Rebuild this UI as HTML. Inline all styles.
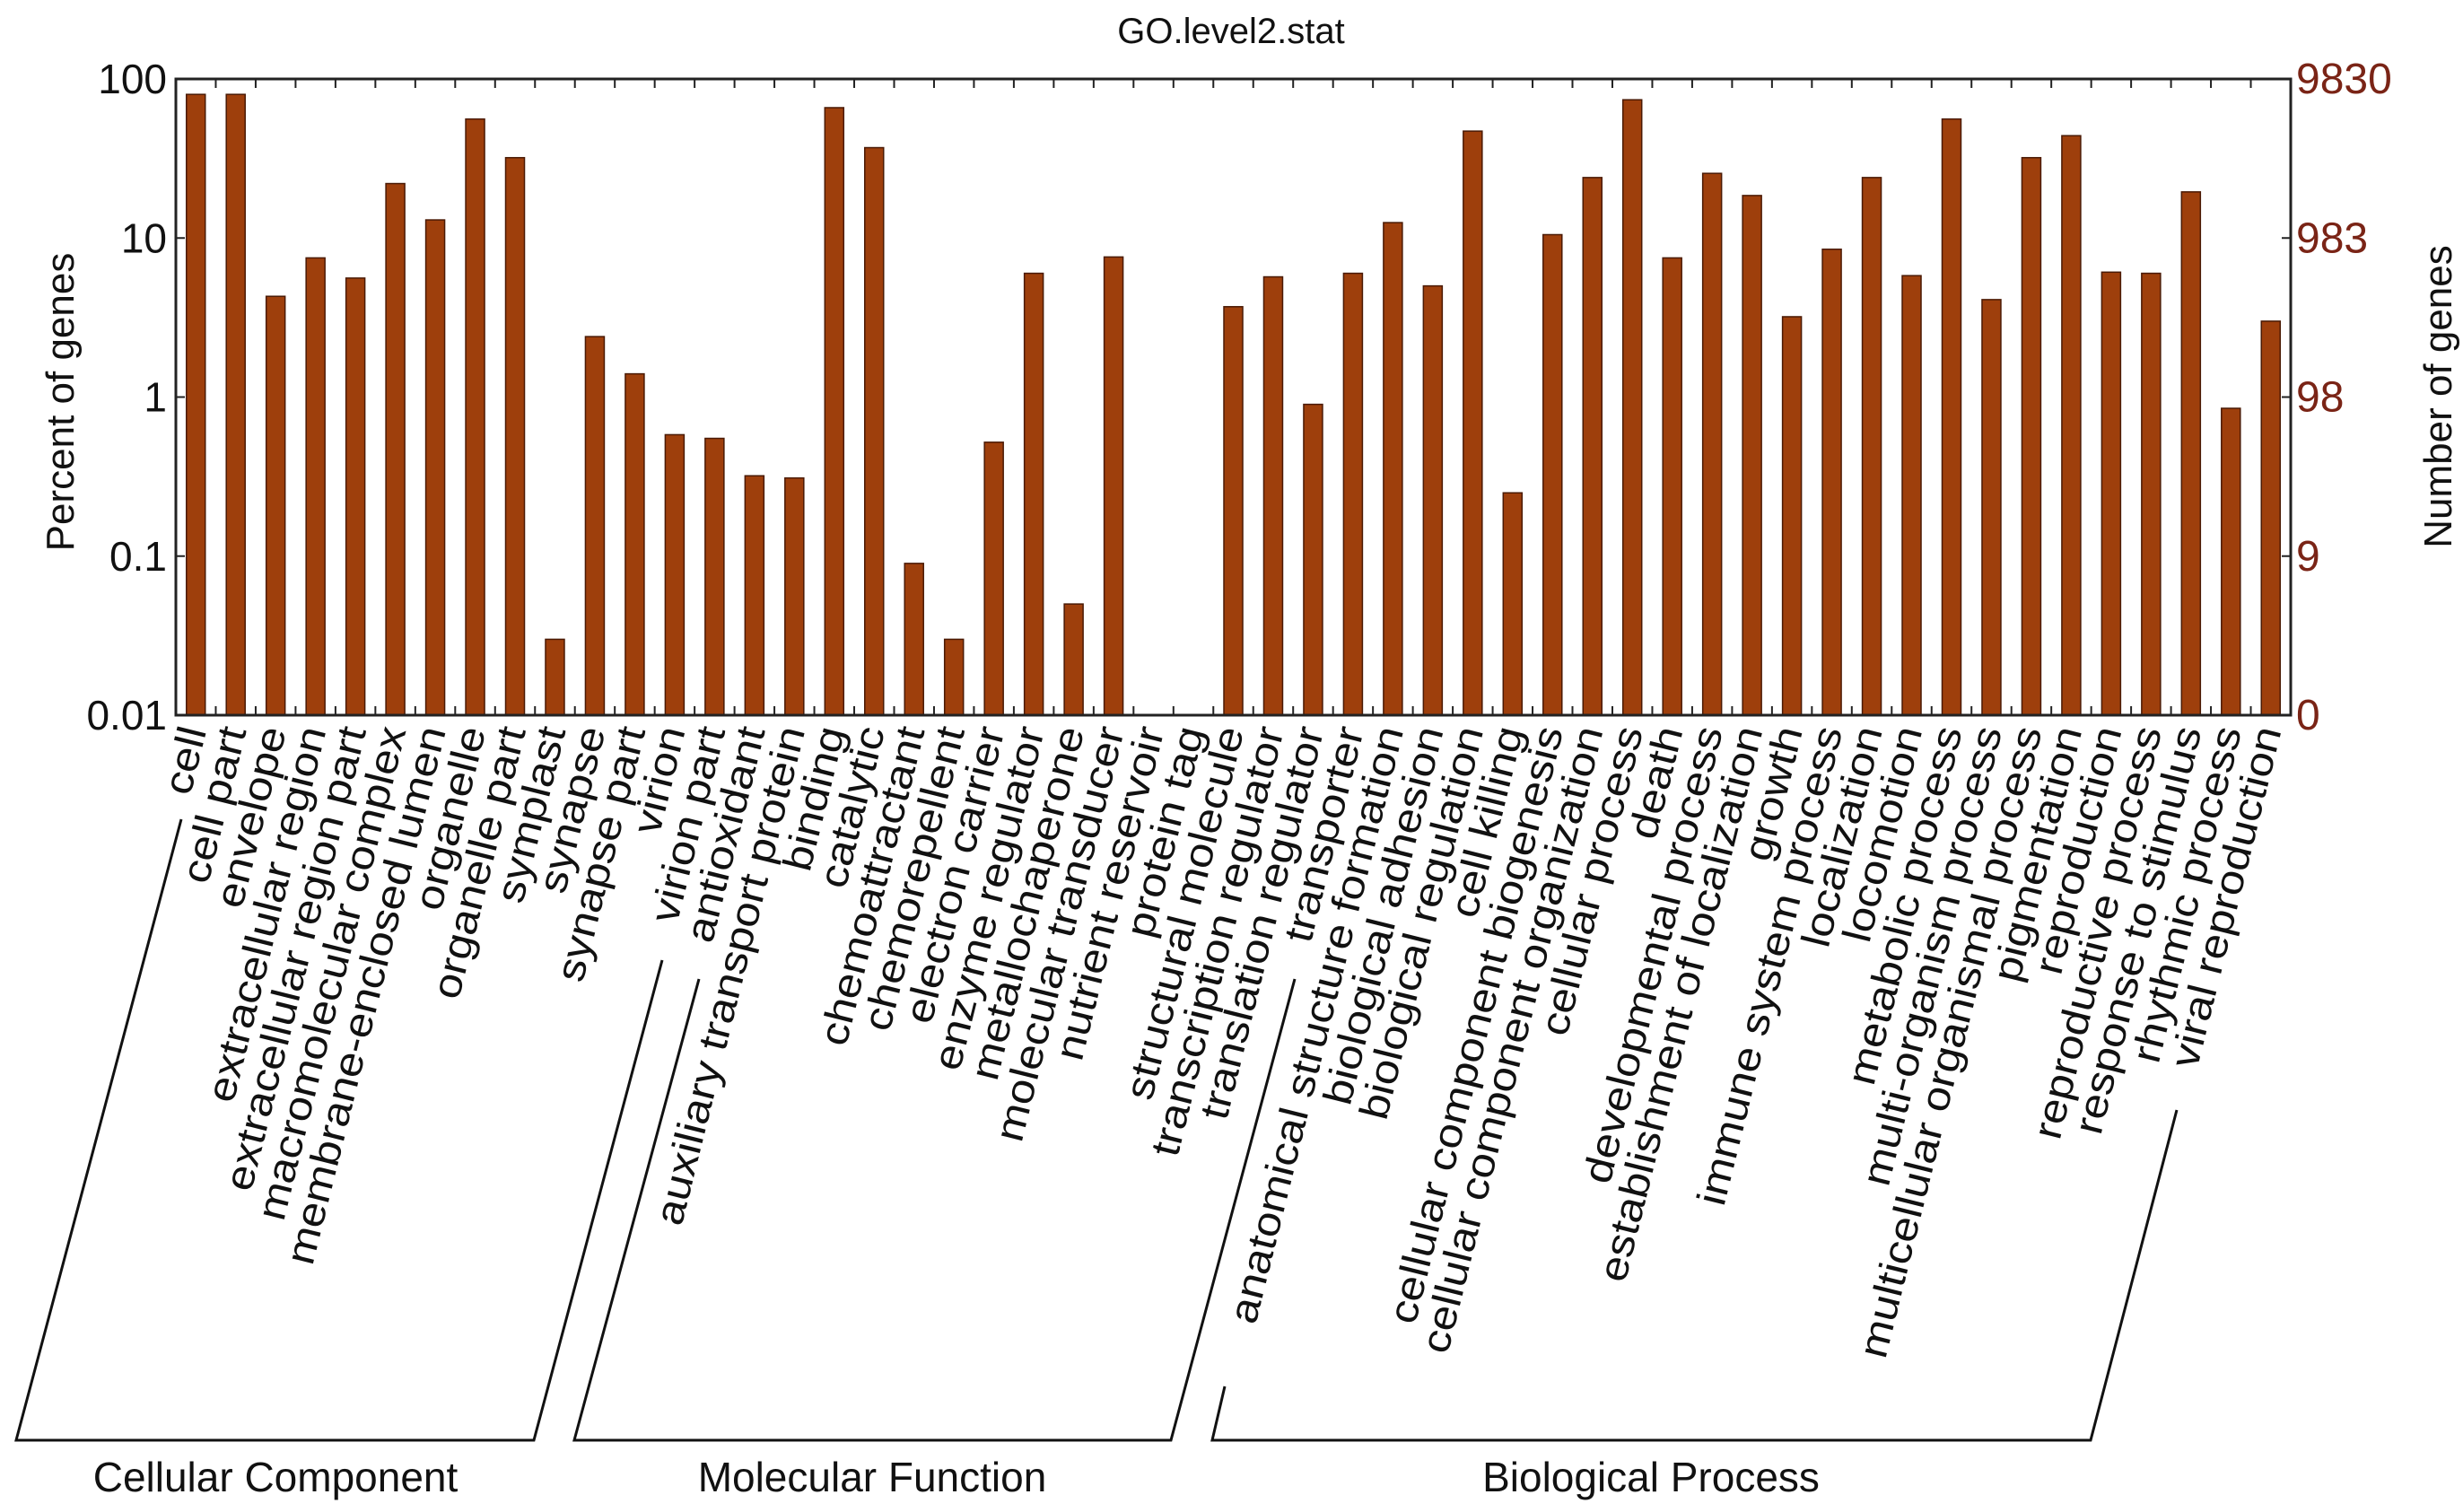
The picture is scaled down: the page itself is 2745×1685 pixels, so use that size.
<!DOCTYPE html>
<html><head><meta charset="utf-8"><style>
html,body{margin:0;padding:0;background:#fff;}
svg{display:block;font-family:"Liberation Sans",Arial,sans-serif;}
</style></head><body>
<svg id="chart" width="2745" height="1685" viewBox="0 0 2745 1685" xmlns="http://www.w3.org/2000/svg">
<text x="1372" y="48" font-size="40" text-anchor="middle" fill="#111">GO.level2.stat</text>
<g id="bars"></g>
<g id="axes"></g>
<g id="xlabels"></g>
<text transform="translate(82,448) rotate(-90)" font-size="44" text-anchor="middle" fill="#111">Percent of genes</text>
<text transform="translate(2732,442) rotate(-90)" font-size="44" text-anchor="middle" fill="#111">Number of genes</text>
<polyline points="202,913 18,1605 595,1605 738,1070" fill="none" stroke="#111" stroke-width="3"/>
<polyline points="779,1091 640,1605 1305,1605 1443,1091" fill="none" stroke="#111" stroke-width="3"/>
<polyline points="1365,1545 1351,1605 2330,1605 2426,1237" fill="none" stroke="#111" stroke-width="3"/>
<text x="307" y="1662" font-size="46" text-anchor="middle" fill="#111">Cellular Component</text>
<text x="972" y="1662" font-size="46" text-anchor="middle" fill="#111">Molecular Function</text>
<text x="1840" y="1662" font-size="46" text-anchor="middle" fill="#111">Biological Process</text>
</svg>
<script>
const categories = ["cell","cell part","envelope","extracellular region","extracellular region part","macromolecular complex","membrane-enclosed lumen","organelle","organelle part","symplast","synapse","synapse part","virion","virion part","antioxidant","auxiliary transport protein","binding","catalytic","chemoattractant","chemorepellent","electron carrier","enzyme regulator","metallochaperone","molecular transducer","nutrient reservoir","protein tag","structural molecule","transcription regulator","translation regulator","transporter","anatomical structure formation","biological adhesion","biological regulation","cell killing","cellular component biogenesis","cellular component organization","cellular process","death","developmental process","establishment of localization","growth","immune system process","localization","locomotion","metabolic process","multi-organism process","multicellular organismal process","pigmentation","reproduction","reproductive process","response to stimulus","rhythmic process","viral reproduction"];
const percentValues = [80,80,4.3,7.5,5.6,22,13,56,32,0.03,2.4,1.4,0.58,0.55,0.32,0.31,66,37,0.09,0.03,0.52,6,0.05,7.6,0,0,3.7,5.7,0.9,6,12.5,5,47,0.25,10.5,24,74,7.5,25.5,18.5,3.2,8.5,24,5.8,56,4.1,32,44,6.1,6,19.5,0.85,3];
const leftTicks = [0.01,0.1,1,10,100];
const leftTickLabels = ["0.01","0.1","1","10","100"];
const rightTickLabels = ["0","9","98","983","9830"];

const NS="http://www.w3.org/2000/svg";
const L=196,R=2553,T=88,B=797;
const n=categories.length, slot=(R-L)/n;
const lmin=Math.log10(0.01), lmax=Math.log10(100);
function yScale(v){ if(v<=0.01) return B; return B-(Math.log10(v)-lmin)/(lmax-lmin)*(B-T); }
function xCenter(i){ return L+slot*(i+0.5); }
function mk(tag,attrs,parent){const e=document.createElementNS(NS,tag);for(const k in attrs)e.setAttribute(k,attrs[k]);parent.appendChild(e);return e;}
const bars=document.getElementById('bars'), axes=document.getElementById('axes'), xl=document.getElementById('xlabels');
const bw=21;
percentValues.forEach((v,i)=>{
  if(v<=0) return;
  const y=yScale(v);
  const r=mk('rect',{x:xCenter(i)-bw/2,y:y,width:bw,height:B-y,fill:'#9E3F0C',stroke:'#4a1a05','stroke-width':1.5},bars);
  
  
});
const fr=mk('rect',{x:L,y:T,width:R-L,height:B-T,fill:'none',stroke:'#222','stroke-width':3},axes);


for(let i=1;i<n;i++){
  const x=L+slot*i;
  mk('line',{x1:x,y1:T,x2:x,y2:T+10,stroke:'#222','stroke-width':2},axes);
  mk('line',{x1:x,y1:B,x2:x,y2:B-10,stroke:'#222','stroke-width':2},axes);
}
leftTicks.forEach((t,i)=>{
  const y=yScale(t);
  mk('line',{x1:L,y1:y,x2:L+10,y2:y,stroke:'#222','stroke-width':2},axes);
  mk('line',{x1:R,y1:y,x2:R-10,y2:y,stroke:'#222','stroke-width':2},axes);
  const tl=mk('text',{x:L-10,y:y+16,'font-size':46,'text-anchor':'end',fill:'#111'},axes);
  tl.textContent=leftTickLabels[i];
  
  
  const tr=mk('text',{x:R+6,y:y+16,'font-size':48,'text-anchor':'start',fill:'#7A2416'},axes);
  tr.textContent=rightTickLabels[i];
  
  
});
categories.forEach((c,i)=>{
  const x=xCenter(i)+12, y=814;
  const t=mk('text',{transform:'translate('+x+','+y+') rotate(-76) scale(1.13,1)','font-size':45,'text-anchor':'end',fill:'#111'},xl);
  t.textContent=c;
  
  
});
</script>
</body></html>
